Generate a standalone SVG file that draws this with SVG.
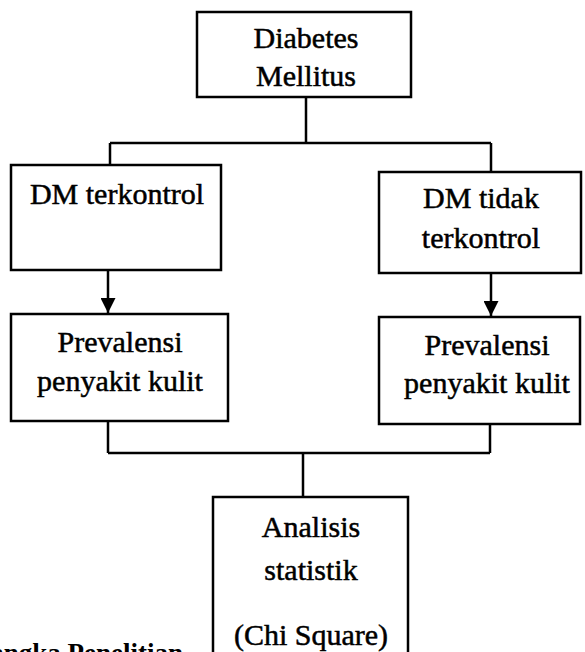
<svg xmlns="http://www.w3.org/2000/svg" width="585" height="652" viewBox="0 0 585 652">
<defs>
<style>
.box{fill:#fff;stroke:#000;stroke-width:2.5}
.t{font-family:"Liberation Serif","Times New Roman",serif;font-size:30px;fill:#000;stroke:#000;stroke-width:0.5;text-anchor:middle}
.c{fill:none;stroke:#000;stroke-width:2.5}
.cap{font-family:"Liberation Serif","Times New Roman",serif;font-size:27px;font-weight:bold;fill:#000;text-anchor:end}
</style>
<marker id="ah" viewBox="0 0 10 10" refX="10" refY="5" markerWidth="6" markerHeight="6" markerUnits="strokeWidth" orient="auto">
<path d="M0,0 L10,5 L0,10 Z" fill="#000"/>
</marker>
</defs>
<rect width="585" height="652" fill="#fff"/>
<g id="connectors">
<path class="c" d="M306,97 V143 M110,143 H491 M110,143 V165 M491,143 V172"/>
<path class="c" d="M108,270 V313" marker-end="url(#ah)"/>
<path class="c" d="M491,273 V316" marker-end="url(#ah)"/>
<path class="c" d="M108,421 V453 M490,424 V453 M108,453 H490 M303,453 V497"/>
</g>
<g id="diabetes">
<rect class="box" x="197" y="12" width="214" height="85"/>
<text class="t" x="306" y="48">Diabetes</text>
<text class="t" x="306" y="86">Mellitus</text>
</g>
<g id="dm-terkontrol">
<rect class="box" x="11" y="165" width="210" height="105"/>
<text class="t" x="117" y="204">DM terkontrol</text>
</g>
<g id="dm-tidak">
<rect class="box" x="379" y="172" width="202" height="101"/>
<text class="t" x="481" y="208">DM tidak</text>
<text class="t" x="481" y="248">terkontrol</text>
</g>
<g id="prevalensi-kiri">
<rect class="box" x="11" y="314" width="217" height="107"/>
<text class="t" x="120" y="352">Prevalensi</text>
<text class="t" x="120" y="391">penyakit kulit</text>
</g>
<g id="prevalensi-kanan">
<rect class="box" x="379" y="317" width="201" height="107"/>
<text class="t" x="487" y="355">Prevalensi</text>
<text class="t" x="487" y="393">penyakit kulit</text>
</g>
<g id="analisis">
<rect class="box" x="213" y="497" width="195" height="170"/>
<text class="t" x="311" y="537">Analisis</text>
<text class="t" x="311" y="580">statistik</text>
<text class="t" x="311" y="645">(Chi Square)</text>
</g>
<text class="cap" x="183" y="662">Kerangka Penelitian</text>
</svg>
